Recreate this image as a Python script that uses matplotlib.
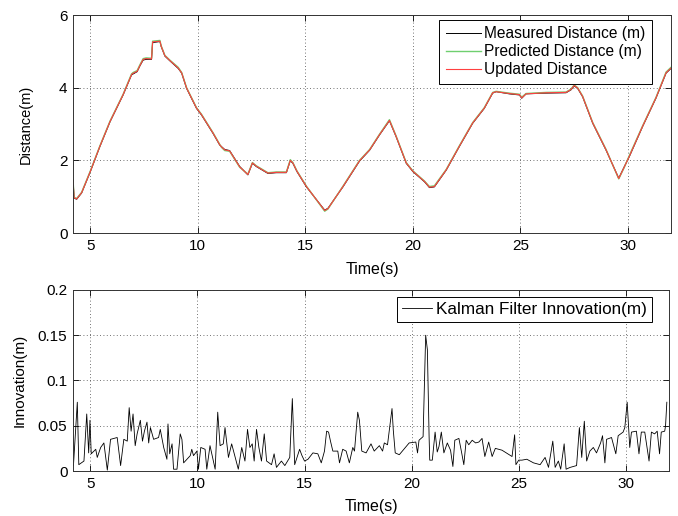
import matplotlib
matplotlib.use("Agg")
import matplotlib.pyplot as plt

plt.rcParams['font.family'] = ['Liberation Sans', 'DejaVu Sans']
plt.rcParams['font.size'] = 10

# distance track (s, m)
time_s = [4.20, 4.25, 4.37, 4.60, 5.00, 5.45, 5.92, 6.53, 6.92, 7.00, 7.18, 7.31, 7.46, 7.60,
          7.85, 7.90, 8.24, 8.30, 8.47, 8.70, 9.09, 9.25, 9.48, 9.94, 10.17, 10.71, 11.02, 11.10,
          11.25, 11.48, 11.95, 12.33, 12.54, 12.72, 13.26, 13.65, 14.12, 14.30, 14.42, 14.61,
          15.05, 15.90, 16.05, 16.75, 17.52, 17.99, 18.45, 18.91, 19.22, 19.69, 20.00, 20.54,
          20.77, 21.00, 21.55, 22.16, 22.78, 23.32, 23.71, 23.87, 24.48, 24.95, 25.06, 25.26,
          26.19, 27.12, 27.35, 27.50, 27.66, 27.89, 28.36, 28.98, 29.57, 29.83, 30.06, 30.68,
          31.30, 31.77, 32.00]
measured = [1.46, 0.96, 0.93, 1.10, 1.68, 2.38, 3.06, 3.80, 4.35, 4.38, 4.44, 4.60, 4.76, 4.78,
            4.78, 5.24, 5.27, 5.13, 4.87, 4.74, 4.53, 4.40, 3.98, 3.43, 3.25, 2.74, 2.42, 2.38,
            2.30, 2.27, 1.83, 1.60, 1.92, 1.83, 1.64, 1.66, 1.66, 1.99, 1.92, 1.69,
            1.27, 0.63, 0.68, 1.27, 1.98, 2.28, 2.70, 3.09, 2.65, 1.92, 1.69, 1.41,
            1.25, 1.27, 1.73, 2.38, 3.02, 3.43, 3.85, 3.89, 3.83, 3.80, 3.71, 3.83,
            3.85, 3.86, 3.94, 4.05, 3.98, 3.75, 3.02, 2.28, 1.51, 1.83, 2.10, 2.93,
            3.71, 4.40, 4.53]
predicted = [1.46, 0.98, 0.95, 1.12, 1.70, 2.40, 3.08, 3.82, 4.38, 4.42, 4.47, 4.63, 4.80, 4.82,
             4.81, 5.28, 5.30, 5.15, 4.89, 4.76, 4.56, 4.42, 4.00, 3.45, 3.27, 2.76, 2.44, 2.36,
             2.27, 2.25, 1.81, 1.62, 1.94, 1.85, 1.66, 1.68, 1.68, 2.02, 1.94, 1.71,
             1.29, 0.60, 0.66, 1.29, 2.00, 2.30, 2.72, 3.12, 2.67, 1.94, 1.71, 1.43,
             1.28, 1.30, 1.75, 2.40, 3.04, 3.45, 3.87, 3.90, 3.85, 3.82, 3.74, 3.84,
             3.87, 3.88, 3.96, 4.08, 4.00, 3.77, 3.04, 2.30, 1.49, 1.81, 2.13, 2.95,
             3.73, 4.43, 4.56]
updated = [1.46, 0.97, 0.94, 1.11, 1.69, 2.39, 3.07, 3.81, 4.36, 4.40, 4.45, 4.61, 4.78, 4.80,
           4.79, 5.26, 5.28, 5.14, 4.88, 4.75, 4.54, 4.41, 3.99, 3.44, 3.26, 2.75, 2.43, 2.37,
           2.29, 2.26, 1.82, 1.61, 1.93, 1.84, 1.65, 1.67, 1.67, 2.00, 1.93, 1.70,
           1.28, 0.62, 0.67, 1.28, 1.99, 2.29, 2.71, 3.10, 2.66, 1.93, 1.70, 1.42,
           1.26, 1.28, 1.74, 2.39, 3.03, 3.44, 3.86, 3.89, 3.84, 3.81, 3.72, 3.83,
           3.86, 3.87, 3.95, 4.06, 3.99, 3.76, 3.03, 2.29, 1.50, 1.82, 2.11, 2.94,
           3.72, 4.41, 4.54]

# kalman innovation (s, m)
innov_t = [4.22, 4.40, 4.47, 4.71, 4.84, 4.93, 4.99, 5.05, 5.26, 5.33, 5.49, 5.64, 5.80, 5.95,
           6.26, 6.42, 6.57, 6.73, 6.82, 6.91, 7.00, 7.10, 7.19, 7.34, 7.44, 7.53, 7.65, 7.73,
           7.81, 7.96, 8.19, 8.27, 8.43, 8.58, 8.63, 8.71, 8.82, 8.89, 9.05, 9.20, 9.28, 9.36,
           9.67, 9.74, 9.82, 9.98, 10.05, 10.16, 10.36, 10.44, 10.59, 10.83, 10.95, 11.06, 11.21,
           11.29, 11.45, 11.60, 11.91, 12.07, 12.22, 12.34, 12.45, 12.56, 12.65, 12.76, 12.87,
           12.99, 13.12, 13.23, 13.46, 13.58, 13.69, 13.92, 14.08, 14.31, 14.43, 14.54, 14.77,
           14.88, 15.00, 15.16, 15.39, 15.62, 15.78, 15.93, 16.03, 16.12, 16.21, 16.32, 16.55,
           16.63, 16.78, 16.94, 17.09, 17.25, 17.33, 17.48, 17.56, 17.67, 17.87, 18.10, 18.25,
           18.49, 18.64, 18.72, 18.87, 19.08, 19.14, 19.23, 19.42, 19.88, 20.19, 20.27, 20.34,
           20.53, 20.65, 20.73, 20.81, 20.84, 20.96, 21.09, 21.19, 21.27, 21.38, 21.50, 21.66,
           21.81, 21.92, 22.01, 22.20, 22.33, 22.43, 22.54, 22.66, 22.82, 22.98, 23.13, 23.28,
           23.41, 23.59, 23.75, 23.90, 24.21, 24.68, 24.80, 24.86, 24.99, 25.14, 25.37, 25.68,
           25.99, 26.22, 26.38, 26.58, 26.69, 26.84, 26.95, 27.11, 27.20, 27.39, 27.69, 27.82,
           27.93, 28.05, 28.16, 28.31, 28.47, 28.62, 28.81, 28.90, 29.01, 29.09, 29.32, 29.52,
           29.63, 29.86, 29.94, 30.05, 30.17, 30.25, 30.48, 30.60, 30.71, 30.87, 31.07, 31.18,
           31.33, 31.45, 31.56, 31.64, 31.80, 31.84, 31.90]
innovation = [0.006, 0.076, 0.007, 0.011, 0.063, 0.020, 0.056, 0.019, 0.024, 0.015, 0.026, 0.031,
              0.001, 0.035, 0.037, 0.006, 0.035, 0.033, 0.070, 0.044, 0.063, 0.028, 0.041, 0.056,
              0.033, 0.044, 0.054, 0.031, 0.048, 0.035, 0.037, 0.046, 0.026, 0.013, 0.052, 0.019,
              0.030, 0.002, 0.002, 0.041, 0.035, 0.009, 0.017, 0.024, 0.017, 0.022, 0.002, 0.026,
              0.024, 0.002, 0.028, 0.002, 0.065, 0.028, 0.030,
              0.048, 0.015, 0.030, 0.002, 0.026, 0.011, 0.046, 0.026, 0.030, 0.011, 0.046, 0.026,
              0.011, 0.041, 0.011, 0.007, 0.019, 0.004, 0.011, 0.006, 0.015, 0.080, 0.007, 0.024,
              0.017, 0.011, 0.013, 0.020, 0.019, 0.009, 0.022, 0.044, 0.043, 0.033, 0.022, 0.022,
              0.009, 0.024, 0.022, 0.009, 0.026, 0.022, 0.065, 0.056, 0.022, 0.020, 0.030, 0.022,
              0.028, 0.022, 0.031, 0.029, 0.069, 0.045, 0.020, 0.018, 0.031, 0.032, 0.020, 0.034,
              0.038, 0.150, 0.134, 0.038, 0.012, 0.012, 0.043, 0.021, 0.027, 0.043, 0.020, 0.031,
              0.023, 0.005, 0.034, 0.036, 0.020, 0.007, 0.034, 0.029, 0.034, 0.031, 0.032, 0.036,
              0.016, 0.032, 0.016, 0.025, 0.023, 0.016, 0.040, 0.007, 0.012, 0.012, 0.013, 0.009,
              0.007, 0.015, 0.004, 0.033, 0.004, 0.011, 0.002, 0.030, 0.002, 0.004, 0.006, 0.048,
              0.015, 0.055, 0.011, 0.022, 0.026, 0.020, 0.031, 0.039, 0.009, 0.035, 0.037, 0.019,
              0.039, 0.043, 0.048, 0.076, 0.026, 0.043, 0.044, 0.019, 0.043, 0.043, 0.011, 0.043,
              0.041, 0.044, 0.019, 0.043, 0.044, 0.050, 0.076]

x_range = (4.2, 32)

fig = plt.figure(figsize=(6.78, 5.16), dpi=100)
ax1 = fig.add_axes([0.1077, 0.5484, 0.882, 0.4225])
ax2 = fig.add_axes([0.1077, 0.0872, 0.879, 0.3508])


def matlab_style(ax):
    ax.grid(True, linestyle=(0, (1, 3)), color='#444444', linewidth=0.6)
    ax.tick_params(direction='in', top=True, right=True, length=4, width=0.6,
                   labelsize=11, pad=4, colors='black')
    for s in ax.spines.values():
        s.set_linewidth(0.7)
        s.set_color('#333333')
    ax.set_xlim(*x_range)
    ax.set_xticks([5, 10, 15, 20, 25, 30])


ax1.plot(time_s, measured, color='black', linewidth=0.7, label='Measured Distance (m)')
ax1.plot(time_s, predicted, color='#6fcf6f', linewidth=1.0, label='Predicted Distance (m)')
ax1.plot(time_s, updated, color='#ff4040', linewidth=0.8, label='Updated Distance')
matlab_style(ax1)
ax1.set_ylim(0, 6)
ax1.set_yticks([0, 2, 4, 6])
ax1.set_xlabel('Time(s)', fontsize=11.5, labelpad=7)
ax1.set_ylabel('Distance(m)', fontsize=10.5, labelpad=19)
leg1 = ax1.legend(loc='upper right', bbox_to_anchor=(0.968, 0.977), borderaxespad=0,
                  fancybox=False, framealpha=1, edgecolor='black', fontsize=11.2,
                  handlelength=2.25, handletextpad=0.25, labelspacing=0.2, borderpad=0.4)
leg1.get_frame().set_linewidth(0.7)

ax2.plot(innov_t, innovation, color='black', linewidth=0.6, label='Kalman Filter Innovation(m)')
matlab_style(ax2)
ax2.set_ylim(0, 0.2)
ax2.set_yticks([0, 0.05, 0.1, 0.15, 0.2])
ax2.set_yticklabels(['0', '0.05', '0.1', '0.15', '0.2'])
ax2.set_xlabel('Time(s)', fontsize=11.5, labelpad=6)
ax2.set_ylabel('Innovation(m)', fontsize=11, labelpad=8)
leg2 = ax2.legend(loc='upper right', bbox_to_anchor=(0.971, 0.961), borderaxespad=0,
                  fancybox=False, framealpha=1, edgecolor='black', fontsize=12.3,
                  handlelength=1.75, handletextpad=0.2, borderpad=0.3)
leg2.get_frame().set_linewidth(0.7)

fig.savefig('out.png', dpi=100)
